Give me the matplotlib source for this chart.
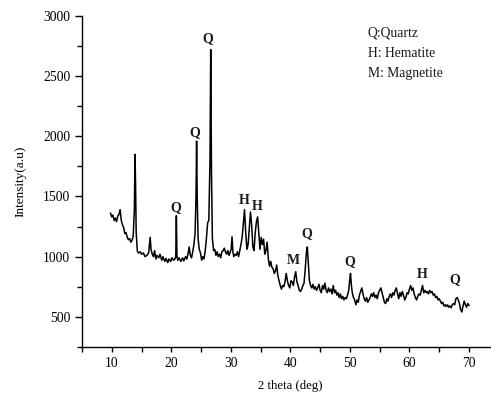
import matplotlib.pyplot as plt
from matplotlib.ticker import MultipleLocator

# XRD pattern
two_theta = [
    9.8, 10.0, 10.2, 10.4, 10.6, 10.8, 11.0, 11.2, 11.4, 11.6, 11.8, 12.0, 12.2, 12.4,
    12.6, 12.8, 13.0, 13.2, 13.4, 13.6, 13.8, 13.9, 14.0, 14.1, 14.3, 14.5, 14.8, 15.0,
    15.3, 15.6, 15.9, 16.2, 16.45, 16.6, 16.8, 17.0, 17.2, 17.4, 17.6, 17.9, 18.1, 18.4,
    18.6, 18.9, 19.1, 19.4, 19.6, 19.9, 20.1, 20.4, 20.6, 20.75, 20.85, 20.95, 21.1, 21.3,
    21.6, 21.9, 22.1, 22.4, 22.6, 22.8, 23.0, 23.2, 23.4, 23.6, 23.8, 24.0, 24.15, 24.25,
    24.35, 24.5, 24.7, 24.9, 25.1, 25.3, 25.5, 25.7, 25.9, 26.1, 26.3, 26.5, 26.62, 26.75,
    26.9, 27.1, 27.3, 27.5, 27.7, 27.9, 28.1, 28.3, 28.5, 28.7, 28.9, 29.1, 29.3, 29.5,
    29.7, 29.9, 30.05, 30.2, 30.35, 30.5, 30.7, 30.9, 31.1, 31.3, 31.5, 31.7, 31.9, 32.1,
    32.3, 32.5, 32.7, 32.9, 33.1, 33.3, 33.5, 33.7, 33.9, 34.1, 34.3, 34.5, 34.7, 34.9,
    35.1, 35.3, 35.5, 35.7, 35.9, 36.1, 36.3, 36.5, 36.7, 36.9, 37.1, 37.3, 37.5, 37.7,
    37.9, 38.1, 38.3, 38.5, 38.7, 38.9, 39.1, 39.3, 39.5, 39.7, 39.9, 40.1, 40.3, 40.5,
    40.7, 40.9, 41.1, 41.3, 41.5, 41.7, 41.9, 42.1, 42.3, 42.5, 42.7, 42.85, 43.0, 43.2,
    43.4, 43.6, 43.8, 44.0, 44.2, 44.4, 44.6, 44.8, 45.0, 45.2, 45.4, 45.6, 45.8, 46.0,
    46.2, 46.4, 46.6, 46.8, 47.0, 47.2, 47.4, 47.6, 47.8, 48.0, 48.2, 48.4, 48.6, 48.8,
    49.0, 49.2, 49.4, 49.6, 49.8, 50.0, 50.1, 50.25, 50.4, 50.6, 50.8, 51.0, 51.2, 51.4,
    51.6, 51.8, 52.0, 52.2, 52.4, 52.6, 52.8, 53.0, 53.2, 53.4, 53.6, 53.8, 54.0, 54.2,
    54.4, 54.6, 54.8, 55.0, 55.2, 55.4, 55.6, 55.8, 56.0, 56.2, 56.4, 56.6, 56.8, 57.0,
    57.2, 57.4, 57.6, 57.8, 58.0, 58.2, 58.4, 58.6, 58.8, 59.0, 59.2, 59.4, 59.6, 59.8,
    60.0, 60.2, 60.4, 60.6, 60.8, 61.0, 61.2, 61.4, 61.6, 61.8, 62.0, 62.2, 62.4, 62.6,
    62.8, 63.0, 63.2, 63.4, 63.6, 63.8, 64.0, 64.2, 64.4, 64.6, 64.8, 65.0, 65.2, 65.4,
    65.6, 65.8, 66.0, 66.2, 66.4, 66.6, 66.8, 67.0, 67.2, 67.4, 67.6, 67.8, 68.0, 68.2,
    68.4, 68.6, 68.8, 69.0, 69.2, 69.4, 69.6, 69.8, 70.0,
]
intensity = [
    1360, 1330, 1345, 1300, 1320, 1290, 1335, 1350, 1390, 1300, 1265, 1240, 1190, 1200,
    1160, 1140, 1150, 1120, 1135, 1170, 1400, 1850, 1600, 1200, 1045, 1030, 1040, 1020,
    1030, 1000, 1010, 1030, 1160, 1060, 1020, 1000, 1050, 980, 1010, 990, 1020, 970,
    1000, 960, 985, 950, 980, 960, 990, 970, 980, 1000, 1340, 1000, 970, 990,
    960, 990, 965, 1000, 980, 1020, 1080, 1010, 990, 1040, 1100, 1200, 1500, 1960,
    1500, 1150, 1060, 1030, 970, 1000, 980, 1050, 1150, 1280, 1300, 1800, 2720, 1700,
    1150, 1050, 1060, 1010, 1040, 1000, 1020, 990, 1040, 1050, 1070, 1040, 1020, 1050,
    1010, 1040, 1060, 1165, 1040, 1000, 1020, 1010, 1040, 1000, 1050, 1100, 1160, 1280,
    1390, 1200, 1060, 1100, 1230, 1370, 1260, 1080, 1050, 1200, 1290, 1330, 1200, 1060,
    1160, 1100, 1145, 1020, 1050, 1120, 980, 920, 960, 910, 900, 860, 880, 930,
    840, 800, 760, 730, 760, 750, 790, 860, 800, 760, 740, 800, 790, 760,
    830, 875, 790, 760, 720, 710, 730, 760, 780, 900, 1040, 1080, 960, 800,
    760, 740, 770, 730, 750, 720, 740, 770, 720, 700, 760, 730, 780, 720,
    700, 740, 710, 730, 690, 760, 700, 720, 680, 700, 660, 690, 650, 670,
    640, 660, 650, 680, 720, 820, 860, 760, 700, 660, 640, 600, 640, 620,
    680, 710, 740, 690, 650, 630, 660, 620, 640, 660, 690, 670, 700, 660,
    680, 650, 700, 720, 740, 700, 660, 620, 610, 650, 630, 670, 690, 660,
    700, 680, 720, 740, 690, 650, 700, 670, 710, 680, 640, 660, 700, 690,
    730, 760, 720, 740, 690, 660, 640, 670, 690, 680, 720, 760, 700, 720,
    700, 710, 690, 720, 700, 710, 680, 690, 660, 670, 640, 650, 630, 610,
    620, 590, 600, 585, 600, 580, 590, 575, 600, 610, 600, 650, 660, 640,
    610, 560, 540, 590, 630, 600, 580, 610, 595,
]

# phase labels: (text, x, y)
peak_labels = ["Q", "Q", "Q", "H", "H", "M", "Q", "Q", "H", "Q"]
peak_x = [26.1, 23.9, 20.8, 32.3, 34.5, 40.5, 42.7, 50.0, 62.2, 67.6]
peak_y = [2810, 2030, 1410, 1470, 1420, 970, 1190, 955, 855, 805]

legend_lines = ["Q:Quartz", "H: Hematite", "M: Magnetite"]
legend_y = [2855, 2690, 2525]

plt.rcParams['font.family'] = ['Liberation Serif', 'DejaVu Serif']

fig = plt.figure(figsize=(4.91, 3.96), dpi=100)
ax = fig.add_axes([0.167, 0.124, 0.833, 0.836])

ax.plot(two_theta, intensity, color='black', lw=1.1)

for lab, x, y in zip(peak_labels, peak_x, peak_y):
    ax.text(x, y, lab, ha='center', va='center', fontsize=10, fontweight='bold', color='#1a1a1a')

for txt, y in zip(legend_lines, legend_y):
    ax.text(53.0, y, txt, ha='left', va='center', fontsize=9.8, color='#1a1a1a')

ax.set_xlim(5, 73.7)
ax.set_ylim(250, 3000)
ax.xaxis.set_major_locator(MultipleLocator(10))
ax.xaxis.set_minor_locator(MultipleLocator(5))
ax.yaxis.set_major_locator(MultipleLocator(500))
ax.yaxis.set_minor_locator(MultipleLocator(250))
ax.set_xticks([10, 20, 30, 40, 50, 60, 70])
ax.set_yticks([500, 1000, 1500, 2000, 2500, 3000])

for side in ['top', 'right']:
    ax.spines[side].set_visible(False)
for side in ['left', 'bottom']:
    ax.spines[side].set_linewidth(1.0)

ax.tick_params(axis='y', which='major', direction='out', length=5, width=1.0, labelsize=9.8)
ax.tick_params(axis='y', which='minor', direction='out', length=3.5, width=1.0)
ax.tick_params(axis='x', which='major', direction='out', length=3.5, width=1.0, labelsize=9.8)
ax.tick_params(axis='x', which='minor', direction='out', length=3.5, width=1.0)

ax.set_ylabel("Intensity(a.u)", fontsize=9.5)
ax.set_xlabel("2 theta (deg)", fontsize=9.2)
ax.yaxis.set_label_coords(-0.135, 0.5)
ax.xaxis.set_label_coords(0.51, -0.1)

fig.savefig("out.png", dpi=100)
